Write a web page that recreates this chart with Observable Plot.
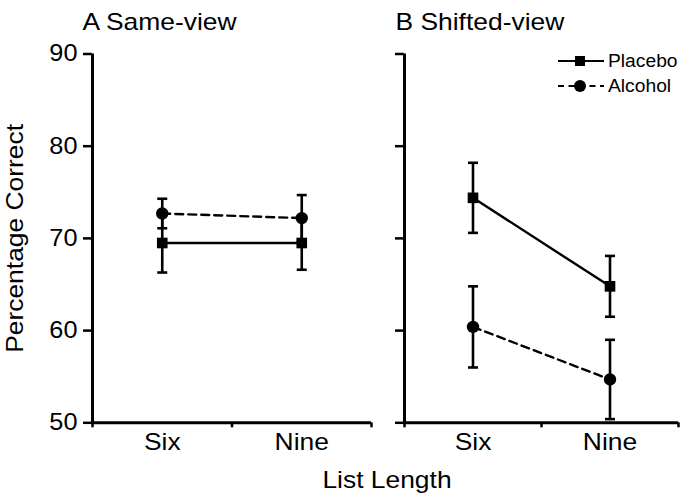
<!DOCTYPE html>
<html><head><meta charset="utf-8">
<script src="https://cdn.jsdelivr.net/npm/d3@7"></script>
<script src="https://cdn.jsdelivr.net/npm/@observablehq/plot@0.6"></script>
<style>
body{margin:0;background:#fff;}
#chart{position:relative;width:684px;height:499px;font-family:"Liberation Sans",Arial,sans-serif;color:#000;overflow:hidden;}
#chart svg{position:absolute;top:0;}
#xlab{position:absolute;left:287px;width:200px;top:466px;text-align:center;font-size:24px;line-height:28px;transform:scaleX(1.1);}
</style></head><body><div id="chart"><div id="xlab">List Length</div></div>
<script>
// ---- data ----
const lengths = ["Six", "Nine"];
const groups = ["Placebo", "Alcohol"];
const panelTitles = ["A Same-view", "B Shifted-view"];
const yTicks = [50, 60, 70, 80, 90];
const placeboSame = [69.5, 69.5];
const placeboSameErr = [3.2, 2.9];
const alcoholSame = [72.7, 72.2];
const alcoholSameErr = [1.6, 2.5];
const placeboShift = [74.4, 64.8];
const placeboShiftErr = [3.8, 3.3];
const alcoholShift = [60.4, 54.7];
const alcoholShiftErr = [4.4, 4.3];

function rowsFor(pm, pe, am, ae) {
  const out = [];
  lengths.forEach((L, i) => {
    out.push({length: L, pos: i + 0.5, group: "Placebo", mean: pm[i], err: pe[i]});
    out.push({length: L, pos: i + 0.5, group: "Alcohol", mean: am[i], err: ae[i]});
  });
  return out;
}
const panels = [
  {title: panelTitles[0], rows: rowsFor(placeboSame, placeboSameErr, alcoholSame, alcoholSameErr)},
  {title: panelTitles[1], rows: rowsFor(placeboShift, placeboShiftErr, alcoholShift, alcoholShiftErr)}
];

const capSymbol = {draw(ctx, size) { const r = 5; ctx.moveTo(-r, 0); ctx.lineTo(r, 0); }};
const font = '"Liberation Sans", Arial, sans-serif';
const STRETCH = 1.1;

function stretchText(svg) {
  svg.querySelectorAll("text").forEach(t => {
    const L = t.getComputedTextLength();
    if (L > 0) {
      t.setAttribute("textLength", (L * STRETCH).toFixed(2));
      t.setAttribute("lengthAdjust", "spacingAndGlyphs");
    }
  });
}

function makePanel(p, idx, geom) {
  const rows = p.rows;
  const marks = [
    Plot.ruleY([50], {strokeWidth: 3}),
    Plot.ruleX([0], {strokeWidth: 3}),
    Plot.axisY({ticks: yTicks, tickSize: 9, tickPadding: 6, strokeWidth: 2.5,
      tickFormat: idx === 0 ? (d => String(d)) : (() => ""), fontSize: 23, label: null}),
    Plot.axisX({ticks: [0, 1, 2], tickSize: 5, strokeWidth: 2.5, tickFormat: () => "", label: null}),
    Plot.axisX({ticks: lengths.map((d, i) => i + 0.5), tickSize: 0, tickPadding: 10,
      tickFormat: (d) => lengths[Math.floor(d)], fontSize: 24, label: null}),
    // error bars
    Plot.ruleX(rows, {x: "pos", y1: d => d.mean - d.err, y2: d => d.mean + d.err, strokeWidth: 2.6}),
    Plot.dot(rows, {x: "pos", y: d => d.mean + d.err, symbol: capSymbol, stroke: "black", strokeWidth: 2.6}),
    Plot.dot(rows, {x: "pos", y: d => d.mean - d.err, symbol: capSymbol, stroke: "black", strokeWidth: 2.6}),
    // lines
    Plot.line(rows.filter(d => d.group === "Placebo"), {x: "pos", y: "mean", stroke: "black", strokeWidth: 2.4}),
    Plot.line(rows.filter(d => d.group === "Alcohol"), {x: "pos", y: "mean", stroke: "black", strokeWidth: 2.4, strokeDasharray: "8,5"}),
    // markers
    Plot.dot(rows.filter(d => d.group === "Placebo"), {x: "pos", y: "mean", symbol: "square", r: 6, fill: "black"}),
    Plot.dot(rows.filter(d => d.group === "Alcohol"), {x: "pos", y: "mean", symbol: "circle", r: 6.2, fill: "black"}),
    // title
    Plot.text([p.title], {frameAnchor: "top-left", textAnchor: "start", dx: geom.titleDx, dy: -41, fontSize: 24})
  ];
  if (idx === 0) {
    marks.push(Plot.text(["Percentage Correct"], {frameAnchor: "left", textAnchor: "middle", rotate: -90, dx: -77, fontSize: 24}));
  }
  const svg = Plot.plot({
    width: geom.width, height: 499,
    marginLeft: geom.ml, marginRight: geom.mr, marginTop: 53.5, marginBottom: 76.7,
    style: {fontFamily: font, color: "#000", background: "transparent", overflow: "visible"},
    x: {type: "linear", domain: [0, lengths.length]},
    y: {type: "linear", domain: [yTicks[0], yTicks[yTicks.length - 1]]},
    marks
  });
  svg.style.left = geom.left + "px";
  return svg;
}

const chart = document.getElementById("chart");
const svgA = makePanel(panels[0], 0, {left: 0, width: 384, ml: 92, mr: 13, titleDx: -10});
const svgB = makePanel(panels[1], 1, {left: 384, width: 300, ml: 20, mr: 6, titleDx: -9});
chart.appendChild(svgA);
chart.appendChild(svgB);

// legend (inside panel B, top right)
const leg = d3.select(chart).append("svg")
  .attr("width", 684).attr("height", 499)
  .style("position", "absolute").style("left", "0px").style("top", "0px")
  .style("font-family", font);
groups.forEach((g, i) => {
  const y = 61 + i * 25;
  leg.append("line").attr("x1", 558).attr("x2", 604).attr("y1", y).attr("y2", y)
    .attr("stroke", "black").attr("stroke-width", 2.2)
    .attr("stroke-dasharray", g === "Alcohol" ? "6,4.5" : null);
  if (g === "Placebo") {
    leg.append("rect").attr("x", 575).attr("y", y - 5).attr("width", 10).attr("height", 10).attr("fill", "black");
  } else {
    leg.append("circle").attr("cx", 580).attr("cy", y).attr("r", 6).attr("fill", "black");
  }
  leg.append("text").attr("x", 608).attr("y", y).attr("dy", "0.35em").attr("font-size", 17.5).text(g);
});

stretchText(svgA);
stretchText(svgB);
stretchText(leg.node());
</script></body></html>
